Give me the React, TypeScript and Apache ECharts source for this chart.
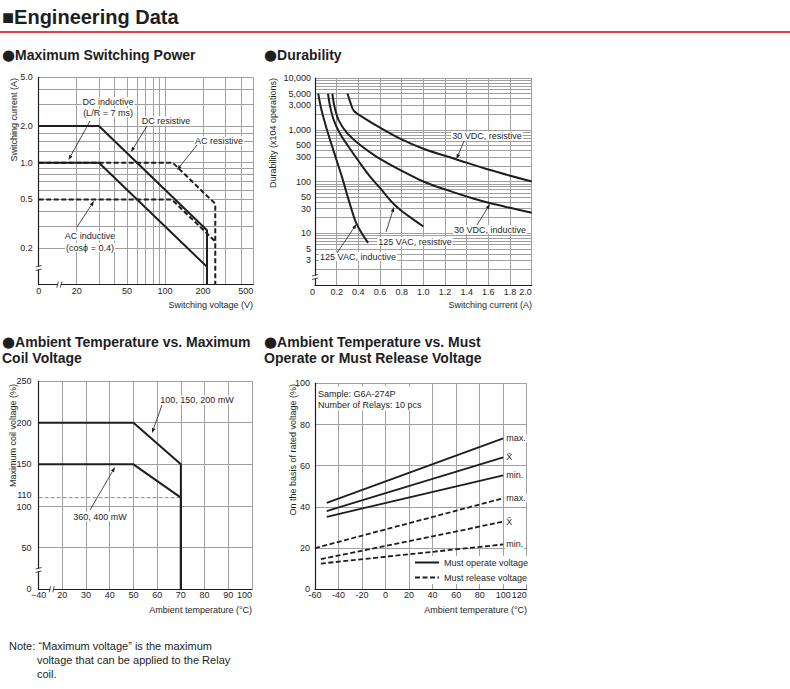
import React, { useEffect, useRef } from 'react';
import * as echarts from 'echarts';

const lg = (v: number) => Math.log10(v);

// ---------- Maximum Switching Power (log-log, broken at origin) ----------
const voltLabels = [10, 20, 50, 100, 200, 500]; // 10 printed as "0"
const voltGrid = [10, 20, 30, 40, 50, 60, 70, 80, 90, 100, 200, 300, 400, 500];
const currLabels = [0.2, 0.5, 1, 2, 5];
const currGrid = [0.1, 0.2, 0.3, 0.4, 0.5, 0.6, 0.7, 0.8, 0.9, 1, 1.25, 1.5, 1.75, 2, 3, 4, 5];
const dcResistive = [[10, 2], [30, 2], [215, 0.279], [215, 0.1]];
const dcInductive = [[10, 1], [30, 1], [215, 0.14]];
const acResistive = [[10, 1], [115, 1], [250, 0.46], [250, 0.1]];
const acInductive = [[10, 0.5], [113, 0.5], [250, 0.226]];

// ---------- Durability ----------
const durLabels = [3, 5, 10, 30, 50, 100, 300, 500, 1000, 3000, 5000, 10000];
const durGrid = [
  1, 2, 3, 4, 5, 6, 7, 8, 9,
  10, 20, 30, 40, 50, 60, 70, 80, 90,
  100, 200, 300, 400, 500, 600, 700, 800, 900,
  1000, 2000, 3000, 4000, 5000, 6000, 7000, 8000, 9000, 10000,
];
const vdc30Resistive = [[0.3, 5000], [0.33, 3200], [0.36, 2300], [0.45, 1700], [0.6, 1100], [0.8, 650], [1.0, 430], [1.3, 270], [1.6, 170], [2.0, 100]];
const vdc30Inductive = [[0.16, 5000], [0.18, 2800], [0.22, 1500], [0.3, 850], [0.42, 500], [0.57, 300], [0.78, 170], [1.0, 100], [1.22, 68], [1.46, 47], [1.62, 38], [1.8, 31], [2.0, 25]];
const vac125Resistive = [[0.12, 5000], [0.14, 2800], [0.175, 1500], [0.23, 850], [0.31, 470], [0.42, 220], [0.51, 123], [0.6, 75], [0.72, 38], [0.8, 27], [0.9, 19], [1.0, 13.5]];
const vac125Inductive = [[0.03, 5000], [0.06, 2400], [0.11, 1000], [0.17, 400], [0.25, 120], [0.32, 38], [0.385, 15], [0.49, 6.5]];

// ---------- Ambient Temperature vs. Maximum Coil Voltage ----------
const coilLabels = [0, 50, 100, 110, 150, 200, 250];
const coilGrid = [0, 50, 100, 150, 200, 250];
const coilHigh = [[10, 200], [50, 200], [70, 150], [70, 0]];
const coilLow = [[10, 150], [50, 150], [70, 110], [70, 0]];
const coilRef110 = [[10, 110], [70, 110]];

// ---------- Ambient Temperature vs. Must Operate / Release ----------
const operateMax = [[-50, 42], [100, 73.3]];
const operateMean = [[-50, 38], [100, 64]];
const operateMin = [[-50, 35.2], [100, 55.3]];
const releaseMax = [[-60, 20], [100, 44.2]];
const releaseMean = [[-55, 14.6], [100, 32.8]];
const releaseMin = [[-55, 12.5], [100, 21.8]];

const FONT = '"Liberation Sans", Arial, Helvetica, sans-serif';
const INK = '#1e1e1e';
const GRIDC = '#a0a0a0';

const fmtThousands = (n: number) => String(n).replace(/\B(?=(\d{3})+(?!\d))/g, ',');

function txt(x: number, y: number, text: string, o: any = {}) {
  const style: any = {
    text,
    fill: INK,
    fontSize: o.size || 9,
    fontWeight: o.weight || 'normal',
    fontFamily: FONT,
    align: o.align || 'left',
    textAlign: o.align || 'left',
    verticalAlign: 'middle',
    textVerticalAlign: 'middle',
    backgroundColor: o.bg,
    padding: o.pad,
  };
  if (o.rich) style.rich = o.rich;
  return { type: 'text', x, y, z: 100, rotation: o.rot || 0, style };
}

const bulletRich = {
  b: { fontSize: 15, fontFamily: '"DejaVu Sans", sans-serif', fill: INK, lineHeight: 18, verticalAlign: 'middle' },
  t: { fontSize: 14, fontWeight: 'bold', fontFamily: FONT, fill: INK, lineHeight: 18, verticalAlign: 'middle' },
};
const heading = (x: number, y: number, text: string) =>
  txt(x, y, '{b|●}{t|' + text + '}', { size: 14, weight: 'bold', rich: bulletRich });

function arrow(x1: number, y1: number, x2: number, y2: number) {
  const a = Math.atan2(y2 - y1, x2 - x1);
  const L = 5;
  const W = 1.8;
  const bx = x2 - L * Math.cos(a);
  const by = y2 - L * Math.sin(a);
  const px = -Math.sin(a) * W;
  const py = Math.cos(a) * W;
  return [
    { type: 'line', z: 100, shape: { x1, y1, x2: bx, y2: by }, style: { stroke: INK, lineWidth: 0.8 } },
    { type: 'polygon', z: 100, shape: { points: [[x2, y2], [bx + px, by + py], [bx - px, by - py]] }, style: { fill: INK } },
  ];
}

function breakV(x: number, y: number) {
  return [
    { type: 'rect', z: 101, shape: { x: x - 3, y: y - 1.5, width: 6, height: 3 }, style: { fill: '#fff' } },
    { type: 'line', z: 102, shape: { x1: x - 3, y1: y - 1, x2: x + 3, y2: y - 2.5 }, style: { stroke: INK, lineWidth: 0.8 } },
    { type: 'line', z: 102, shape: { x1: x - 3, y1: y + 2.5, x2: x + 3, y2: y + 1 }, style: { stroke: INK, lineWidth: 0.8 } },
  ];
}

function breakH(x: number, y: number) {
  return [
    { type: 'rect', z: 101, shape: { x: x - 1.5, y: y - 3, width: 3, height: 6 }, style: { fill: '#fff' } },
    { type: 'line', z: 102, shape: { x1: x - 2.5, y1: y + 3, x2: x - 1, y2: y - 3 }, style: { stroke: INK, lineWidth: 0.8 } },
    { type: 'line', z: 102, shape: { x1: x + 1, y1: y + 3, x2: x + 2.5, y2: y - 3 }, style: { stroke: INK, lineWidth: 0.8 } },
  ];
}

const labelBase = { color: INK, fontSize: 9, fontFamily: FONT };
const axisLineBase = { show: true, onZero: false, lineStyle: { color: INK, width: 1.2 } };
const splitBase = { show: true, lineStyle: { color: GRIDC, width: 1 } };

function lineSeries(data: number[][], idx: number, o: any = {}) {
  return {
    type: 'line',
    name: o.name,
    xAxisIndex: idx,
    yAxisIndex: idx,
    data,
    symbol: 'none',
    showSymbol: false,
    silent: true,
    smooth: o.smooth || false,
    lineStyle: { color: o.color || INK, width: o.width || 2, type: o.dash || 'solid' },
    itemStyle: { color: o.color || INK },
    endLabel: o.end
      ? {
          show: true,
          formatter: o.end,
          distance: 2,
          color: INK,
          fontSize: 9,
          fontFamily: FONT,
          backgroundColor: '#fff',
          padding: [0, 1],
        }
      : undefined,
    z: 3,
  };
}

const toLogLog = (d: number[][]) => d.map(([x, y]) => [lg(x), lg(y)]);
const toLinLog = (d: number[][]) => d.map(([x, y]) => [x, lg(y)]);

const DASH = [5, 2.5];

export default function App() {
  const ref = useRef<HTMLDivElement>(null);

  useEffect(() => {
    if (!ref.current) return;
    const chart = echarts.init(ref.current, null, { renderer: 'svg' });

    const graphic: any[] = [
      txt(2, 17, '■Engineering Data', { size: 20, weight: 'bold' }),
      { type: 'line', z: 100, shape: { x1: 0, y1: 32, x2: 790, y2: 32 }, style: { stroke: '#d8000f', lineWidth: 1.5 } },
      heading(2, 55, 'Maximum Switching Power'),
      heading(264, 55, 'Durability'),
      heading(2, 342, 'Ambient Temperature vs. Maximum'),
      txt(2, 358, 'Coil Voltage', { size: 14, weight: 'bold' }),
      heading(264, 342, 'Ambient Temperature vs. Must'),
      txt(264, 358, 'Operate or Must Release Voltage', { size: 14, weight: 'bold' }),

      // axis names
      txt(14, 78, 'Switching current (A)', { rot: Math.PI / 2, align: 'right' }),
      txt(253, 305, 'Switching voltage (V)', { align: 'right' }),
      txt(273, 78, 'Durability (x104 operations)', { rot: Math.PI / 2, align: 'right' }),
      txt(532, 305, 'Switching current (A)', { align: 'right' }),
      txt(12.5, 384, 'Maximum coil voltage (%)', { rot: Math.PI / 2, align: 'right' }),
      txt(252, 610, 'Ambient temperature (°C)', { align: 'right' }),
      txt(293, 384, 'On the basis of rated voltage (%)', { rot: Math.PI / 2, align: 'right' }),
      txt(527, 610, 'Ambient temperature (°C)', { align: 'right' }),

      // chart 1 annotations
      txt(108, 101.5, 'DC inductive', { align: 'center', bg: '#fff', pad: [0, 1] }),
      txt(108, 113, '(L/R = 7 ms)', { align: 'center', bg: '#fff', pad: [0, 1] }),
      ...arrow(90, 121, 68.5, 160),
      txt(166, 121, 'DC resistive', { align: 'center', bg: '#fff', pad: [0, 1] }),
      ...arrow(147, 126, 131, 152),
      txt(219, 141, 'AC resistive', { align: 'center', bg: '#fff', pad: [0, 1] }),
      ...arrow(197, 145, 177, 170),
      txt(90, 236, 'AC inductive', { align: 'center', bg: '#fff', pad: [0, 1] }),
      txt(90, 247.5, '(cosϕ = 0.4)', { align: 'center', bg: '#fff', pad: [0, 1] }),
      ...arrow(77, 227, 94, 201),
      ...breakV(38.7, 268),
      ...breakH(59.3, 284.7),

      // chart 2 annotations
      txt(487, 136, '30 VDC, resistive', { align: 'center', bg: '#fff', pad: [0, 1] }),
      ...arrow(464, 141, 456.5, 159),
      txt(490, 229.5, '30 VDC, inductive', { align: 'center', bg: '#fff', pad: [0, 1] }),
      ...arrow(477, 225, 490, 204),
      txt(415, 241.5, '125 VAC, resistive', { align: 'center', bg: '#fff', pad: [0, 1] }),
      ...arrow(386, 232, 394, 207),
      txt(358, 256.5, '125 VAC, inductive', { align: 'center', bg: '#fff', pad: [0, 1] }),
      ...arrow(337, 253, 356.5, 224),
      ...breakV(315, 277),

      // chart 3 annotations
      txt(197, 400, '100, 150, 200 mW', { align: 'center', bg: '#fff', pad: [0, 1] }),
      ...arrow(162, 405, 152, 433),
      txt(100, 516.5, '360, 400 mW', { align: 'center', bg: '#fff', pad: [0, 1] }),
      ...arrow(90, 510, 115, 467),
      ...breakV(38.6, 570),
      ...breakH(51.7, 589.3),

      // chart 4 sample box
      { type: 'rect', z: 99, shape: { x: 316.5, y: 386.5, width: 109, height: 24 }, style: { fill: '#fff' } },
      txt(318, 394, 'Sample: G6A-274P'),
      txt(318, 404.5, 'Number of Relays: 10 pcs'),

      // note
      txt(9, 646, 'Note: “Maximum voltage” is the maximum', { size: 11 }),
      txt(37, 660, 'voltage that can be applied to the Relay', { size: 11 }),
      txt(37, 673.5, 'coil.', { size: 11 }),
    ];

    const option: any = {
      animation: false,
      backgroundColor: '#fff',
      textStyle: { fontFamily: FONT },
      grid: [
        { left: 38.7, top: 77.4, width: 214.6, height: 207.3, containLabel: false, outerBoundsMode: 'none' },
        { left: 315, top: 78, width: 216.7, height: 207, containLabel: false, outerBoundsMode: 'none' },
        { left: 38.6, top: 381, width: 213.4, height: 208.3, containLabel: false, outerBoundsMode: 'none' },
        { left: 315, top: 383.3, width: 211.7, height: 206, containLabel: false, outerBoundsMode: 'none' },
      ],
      xAxis: [
        {
          gridIndex: 0, type: 'value', min: lg(10), max: lg(500),
          axisLine: axisLineBase,
          axisTick: { show: false, customValues: voltGrid.map(lg) },
          splitLine: splitBase,
          axisLabel: {
            ...labelBase, margin: 2, alignMaxLabel: 'right',
            customValues: voltLabels.map(lg),
            formatter: (v: number) => (Math.abs(v - 1) < 1e-9 ? '0' : String(Math.round(Math.pow(10, v)))),
          },
        },
        {
          gridIndex: 1, type: 'value', min: 0, max: 2, interval: 0.2,
          axisLine: axisLineBase,
          axisTick: { show: false },
          splitLine: splitBase,
          axisLabel: {
            ...labelBase, margin: 2, alignMinLabel: 'right', alignMaxLabel: 'right',
            formatter: (v: number) => (v === 0 ? '0' : v.toFixed(1)),
          },
        },
        {
          gridIndex: 2, type: 'value', min: 10, max: 100, interval: 10,
          axisLine: axisLineBase,
          axisTick: { show: false },
          splitLine: splitBase,
          axisLabel: {
            ...labelBase, margin: 1, alignMaxLabel: 'right',
            formatter: (v: number) => (v === 10 ? '−40' : String(v)),
          },
        },
        {
          gridIndex: 3, type: 'value', min: -60, max: 120, interval: 20,
          axisLine: axisLineBase,
          axisTick: { show: false },
          splitLine: splitBase,
          axisLabel: { ...labelBase, margin: 1, alignMaxLabel: 'right' },
        },
      ],
      yAxis: [
        {
          gridIndex: 0, type: 'value', min: -1, max: lg(5),
          axisLine: axisLineBase,
          axisTick: { show: false, customValues: currGrid.map(lg) },
          splitLine: splitBase,
          axisLabel: {
            ...labelBase, margin: 6,
            customValues: currLabels.map(lg),
            formatter: (v: number) => Math.pow(10, v).toFixed(1),
          },
        },
        {
          gridIndex: 1, type: 'value', min: 0, max: 4,
          axisLine: axisLineBase,
          axisTick: { show: false, customValues: durGrid.map(lg) },
          splitLine: splitBase,
          axisLabel: {
            ...labelBase, margin: 4,
            customValues: durLabels.map(lg),
            formatter: (v: number) => fmtThousands(Math.round(Math.pow(10, v))),
          },
        },
        {
          gridIndex: 2, type: 'value', min: 0, max: 250,
          axisLine: axisLineBase,
          axisTick: { show: false, customValues: coilGrid },
          splitLine: splitBase,
          axisLabel: {
            ...labelBase, margin: 7, customValues: coilLabels,
            formatter: (v: number) => (v === 110 ? '{up|110}' : v === 100 ? '{dn|100}' : String(v)),
            rich: {
              up: { fontSize: 9, fontFamily: FONT, color: INK, lineHeight: 9, padding: [0, 0, 5, 0] },
              dn: { fontSize: 9, fontFamily: FONT, color: INK, lineHeight: 9, padding: [2, 0, 0, 0] },
            },
          },
        },
        {
          gridIndex: 3, type: 'value', min: 0, max: 100, interval: 20,
          axisLine: axisLineBase,
          axisTick: { show: false },
          splitLine: splitBase,
          axisLabel: { ...labelBase, margin: 5 },
        },
      ],
      legend: {
        data: ['Must operate voltage', 'Must release voltage'],
        orient: 'vertical',
        left: 412,
        top: 556,
        itemWidth: 24,
        itemHeight: 10,
        itemGap: 6,
        selectedMode: false,
        backgroundColor: '#fff',
        padding: [2, 2, 2, 2],
        itemStyle: { opacity: 0 },
        textStyle: { color: INK, fontSize: 9, fontFamily: FONT },
      },
      series: [
        lineSeries(toLogLog(dcResistive), 0),
        lineSeries(toLogLog(dcInductive), 0),
        lineSeries(toLogLog(acResistive), 0, { dash: DASH }),
        lineSeries(toLogLog(acInductive), 0, { dash: DASH }),

        lineSeries(toLinLog(vdc30Resistive), 1, { smooth: 0.35 }),
        lineSeries(toLinLog(vdc30Inductive), 1, { smooth: 0.35 }),
        lineSeries(toLinLog(vac125Resistive), 1, { smooth: 0.35 }),
        lineSeries(toLinLog(vac125Inductive), 1, { smooth: 0.35 }),

        lineSeries(coilRef110, 2, { color: '#8c8c8c', width: 1, dash: [4, 2] }),
        lineSeries(coilHigh, 2),
        lineSeries(coilLow, 2),

        lineSeries(operateMax, 3, { name: 'Must operate voltage', end: 'max.', width: 1.8 }),
        lineSeries(operateMean, 3, { name: 'Must operate voltage', end: 'X\u0304', width: 1.8 }),
        lineSeries(operateMin, 3, { name: 'Must operate voltage', end: 'min.', width: 1.8 }),
        lineSeries(releaseMax, 3, { name: 'Must release voltage', end: 'max.', width: 1.8, dash: DASH }),
        lineSeries(releaseMean, 3, { name: 'Must release voltage', end: 'X\u0304', width: 1.8, dash: DASH }),
        lineSeries(releaseMin, 3, { name: 'Must release voltage', end: 'min.', width: 1.8, dash: DASH }),
      ],
      graphic,
    };

    chart.setOption(option);
    return () => chart.dispose();
  }, []);

  return (
    <div
      ref={ref}
      style={{ position: 'absolute', left: 0, top: 0, width: 790, height: 689, background: '#fff' }}
    />
  );
}
